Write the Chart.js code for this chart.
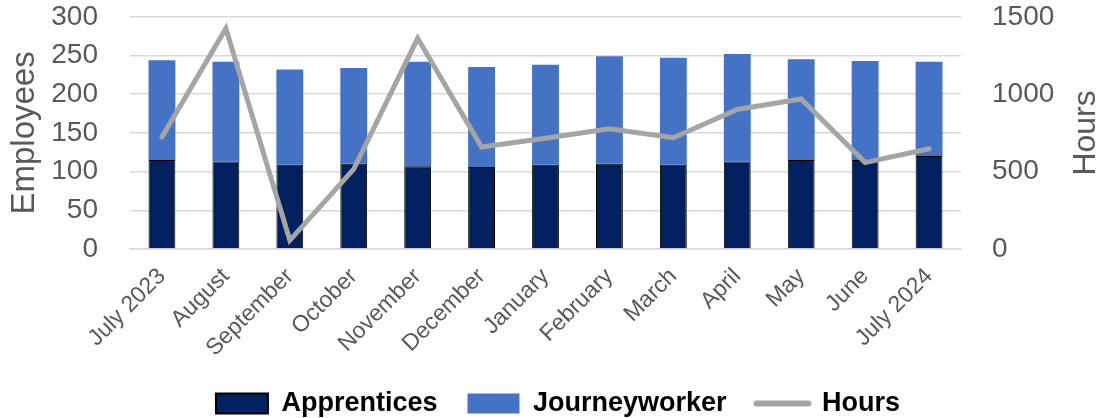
<!DOCTYPE html>
<html>
<head>
<meta charset="utf-8">
<script src="https://cdn.jsdelivr.net/npm/chart.js@4"></script>
<style>
  html, body { margin: 0; padding: 0; background: #ffffff; }
  #wrap { width: 1102px; height: 418px; position: relative; }
</style>
</head>
<body>
<div id="wrap"><canvas id="crewChart"></canvas></div>
<script>
const FONT = "'Liberation Sans', Arial, sans-serif";
const GREY_TEXT = '#595959';

const months = ['July 2023', 'August', 'September', 'October', 'November', 'December',
    'January', 'February', 'March', 'April', 'May', 'June', 'July 2024'];
const apprentices = [115, 113, 109, 110, 107, 106, 109, 110, 109, 113, 115, 115, 120];
const journeyworkers = [129, 129, 123, 124, 135, 129, 129, 139, 138, 139, 130, 128, 122];
const hours = [723, 1425, 56, 516, 1361, 659, 715, 777, 719, 901, 969, 558, 648];
const employeeTicks = [0, 50, 100, 150, 200, 250, 300];
const hourTicks = [0, 500, 1000, 1500];

// right axis title reads bottom-to-top, so draw it by hand
const hoursTitle = {
    id: 'hoursTitle',
    afterDraw(chart) {
        const ctx = chart.ctx;
        const area = chart.chartArea;
        ctx.save();
        ctx.translate(1086, (area.top + area.bottom) / 2);
        ctx.rotate(-Math.PI / 2);
        ctx.font = '32px ' + FONT;
        ctx.fillStyle = GREY_TEXT;
        ctx.textAlign = 'center';
        ctx.textBaseline = 'middle';
        ctx.fillText('Hours', 0, 0);
        ctx.restore();
    }
};

new Chart(document.getElementById('crewChart'), {
    type: 'bar',
    data: {
        labels: months,
        datasets: [{
            label: 'Apprentices',
            data: apprentices,
            backgroundColor: '#002060',
            borderColor: '#000000',
            borderWidth: 1,
            barPercentage: 0.42,
            categoryPercentage: 1,
            yAxisID: 'y',
            order: 2
        }, {
            label: 'Journeyworker',
            data: journeyworkers,
            backgroundColor: '#4472C4',
            borderWidth: 0,
            barPercentage: 0.42,
            categoryPercentage: 1,
            yAxisID: 'y',
            order: 2
        }, {
            type: 'line',
            label: 'Hours',
            data: hours,
            borderColor: '#A5A5A5',
            backgroundColor: '#A5A5A5',
            borderWidth: 5,
            borderCapStyle: 'round',
            pointRadius: 0,
            tension: 0,
            yAxisID: 'y1',
            order: 1
        }]
    },
    options: {
        responsive: true,
        maintainAspectRatio: false,
        animation: false,
        // left padding nudges the centred legend row right
        layout: { padding: { top: -2, bottom: -9, left: 14, right: 0 } },
        plugins: {
            tooltip: { enabled: false },
            legend: {
                position: 'bottom',
                labels: {
                    color: '#000000',
                    font: { family: FONT, size: 27, weight: 'bold' },
                    usePointStyle: true,
                    pointStyleWidth: 52,
                    boxHeight: 20,
                    padding: 30,
                    sort: (a, b) => a.datasetIndex - b.datasetIndex,
                    generateLabels(chart) {
                        const items = Chart.defaults.plugins.legend.labels.generateLabels(chart);
                        items.forEach(item => {
                            const i = item.datasetIndex;
                            if (i === 2) {
                                item.pointStyle = 'line';
                                item.lineWidth = 6;
                                item.strokeStyle = '#A5A5A5';
                                item.lineCap = 'round';
                            } else {
                                item.pointStyle = 'rect';
                                item.lineWidth = i === 0 ? 2 : 0;
                                item.strokeStyle = i === 0 ? '#000000' : '#4472C4';
                            }
                        });
                        return items;
                    }
                }
            }
        },
        scales: {
            x: {
                stacked: true,
                grid: { display: false },
                border: { display: true, color: '#D9D9D9', width: 1.5 },
                ticks: {
                    color: GREY_TEXT,
                    font: { family: FONT, size: 23 },
                    maxRotation: 45,
                    minRotation: 45,
                    autoSkip: false,
                    padding: 6
                },
                afterFit(scale) { scale.height = 111; }
            },
            y: {
                stacked: true,
                position: 'left',
                min: 0,
                max: 300,
                grid: {
                    color: '#D9D9D9',
                    lineWidth: 1.5,
                    drawTicks: true,
                    tickLength: 32,
                    tickColor: 'rgba(0,0,0,0)'
                },
                border: { display: false },
                afterBuildTicks(scale) { scale.ticks = employeeTicks.map(v => ({ value: v })); },
                ticks: {
                    color: GREY_TEXT,
                    font: { family: FONT, size: 28 },
                    padding: 0
                },
                title: {
                    display: true,
                    text: 'Employees',
                    color: GREY_TEXT,
                    font: { family: FONT, size: 33 },
                    padding: { top: -9, bottom: 0 }
                },
                afterFit(scale) { scale.width = 116; }
            },
            y1: {
                position: 'right',
                min: 0,
                max: 1500,
                grid: {
                    display: true,
                    drawOnChartArea: false,
                    drawTicks: true,
                    tickLength: 31,
                    color: 'rgba(0,0,0,0)',
                    tickColor: 'rgba(0,0,0,0)'
                },
                border: { display: false },
                afterBuildTicks(scale) { scale.ticks = hourTicks.map(v => ({ value: v })); },
                ticks: {
                    color: GREY_TEXT,
                    font: { family: FONT, size: 28 },
                    padding: 0,
                    callback: v => String(v)
                },
                afterFit(scale) { scale.width = 141; }
            }
        }
    },
    plugins: [hoursTitle]
});
</script>
</body>
</html>
